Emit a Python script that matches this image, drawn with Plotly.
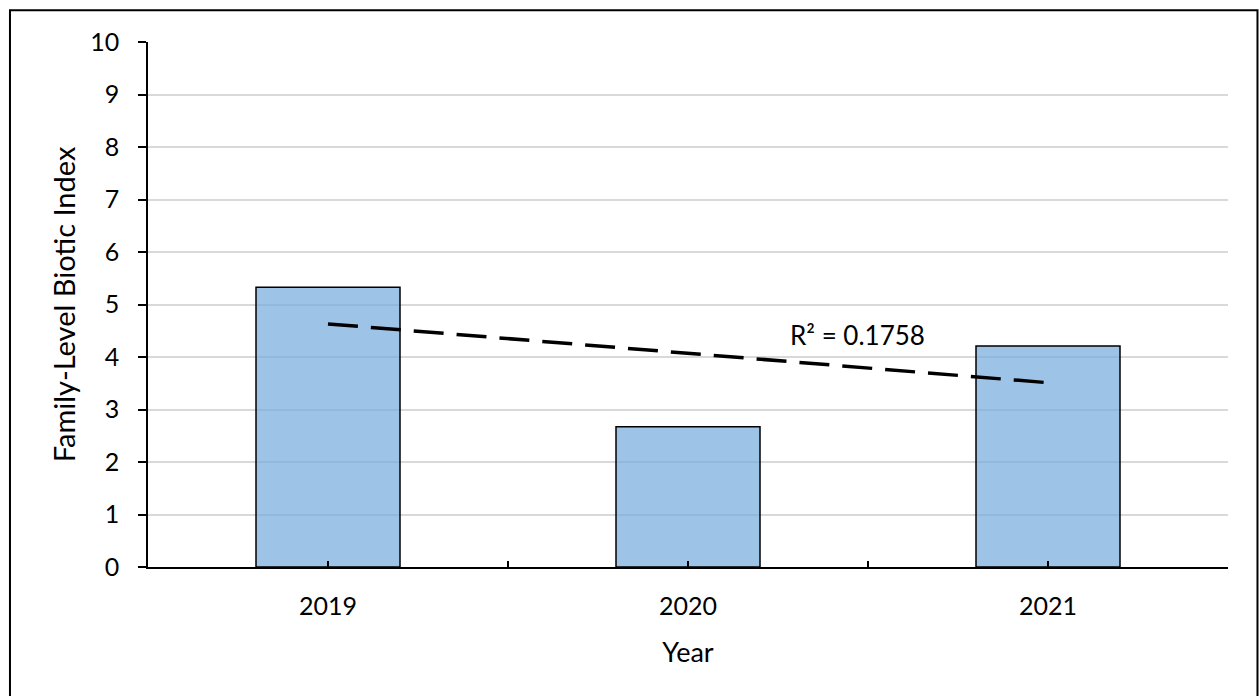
import numpy as np
import plotly.graph_objects as go

years = ["2019", "2020", "2021"]
fbi_values = [5.33, 2.67, 4.21]
r_squared_label = "R² = 0.1758"
y_ticks = list(range(0, 11))

x_pos = np.arange(len(years))
slope, intercept = np.polyfit(x_pos, fbi_values, 1)
trend_y = slope * x_pos + intercept

font_family = "Lato, 'Open Sans', sans-serif"
fsize = 25

fig = go.Figure()
fig.add_trace(go.Bar(
    x=x_pos, y=fbi_values, width=0.4,
    marker=dict(color="rgba(115,169,219,0.7)", line=dict(color="black", width=1.5)),
    showlegend=False, hoverinfo="skip",
))
fig.add_trace(go.Scatter(
    x=[x_pos[0], x_pos[-1]], y=[trend_y[0], trend_y[-1]], mode="lines",
    line=dict(color="black", width=3.5, dash="30px,13px"),
    showlegend=False, hoverinfo="skip",
))

tickvals = []
ticktext = []
for i, yr in enumerate(years):
    tickvals += [i - 0.5, i]
    ticktext += ["", yr]
tickvals.append(len(years) - 0.5)
ticktext.append("")

fig.add_annotation(x=1.47, y=4.41, text=r_squared_label, showarrow=False,
                   font=dict(family=font_family, size=26, color="black"))

fig.add_shape(type="rect", xref="paper", yref="paper",
              x0=-0.1278, x1=1.0273, y0=-0.3, y1=1.0604,
              line=dict(color="black", width=2), layer="below")

fig.update_layout(
    width=1259, height=696,
    margin=dict(l=148, r=31, t=42, b=129, autoexpand=False),
    paper_bgcolor="white", plot_bgcolor="white",
    font=dict(family=font_family, size=fsize, color="black"),
    bargap=0.6,
    xaxis=dict(
        range=[-0.5, len(years) - 0.5], tickmode="array",
        tickvals=tickvals, ticktext=ticktext,
        ticks="inside", ticklen=6, tickwidth=1.5, tickcolor="black",
        showline=True, linecolor="black", linewidth=1.5,
        showgrid=False, zeroline=False,
        title=dict(text="Year", font=dict(size=27), standoff=24),
        ticklabelstandoff=16,
    ),
    yaxis=dict(
        range=[0, 10], tickmode="array", tickvals=y_ticks,
        ticks="outside", ticklen=8, tickwidth=1.5, tickcolor="black",
        showline=True, linecolor="black", linewidth=1.5,
        showgrid=True, gridcolor="#d9d9d9", gridwidth=1.5,
        zeroline=False,
        title=dict(text="Family-Level Biotic Index", font=dict(size=29), standoff=6),
        ticklabelstandoff=14,
    ),
)

fig.write_html(
    "out.html",
    config={"displayModeBar": False},
    post_script="document.body.style.margin='0';document.body.style.overflow='hidden';",
)
